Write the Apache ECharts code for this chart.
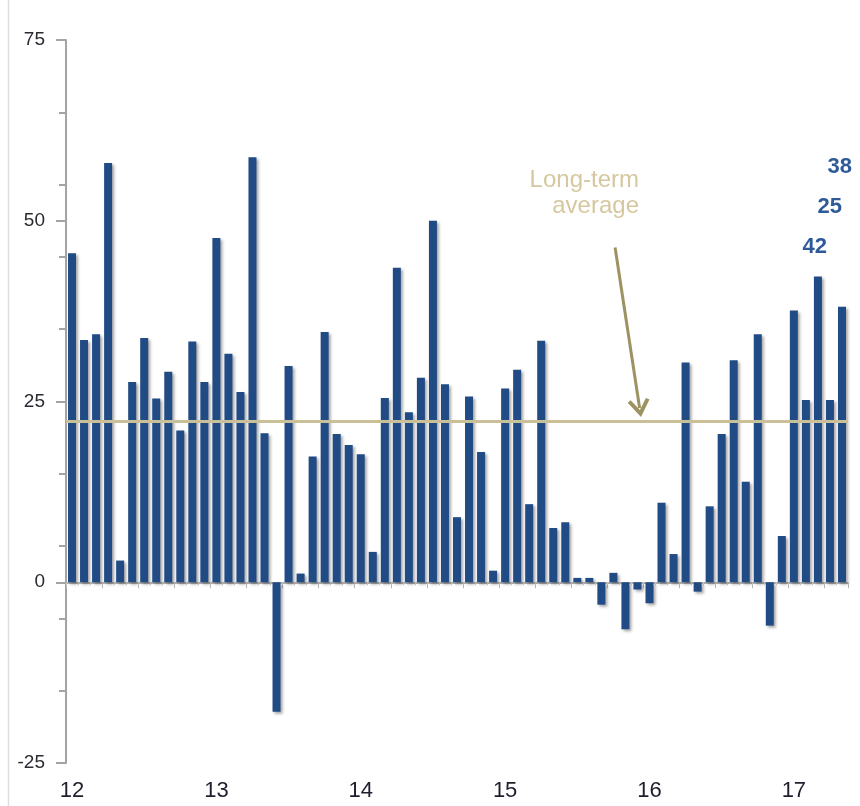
<!DOCTYPE html>
<html>
<head>
<meta charset="utf-8">
<script src="https://cdn.jsdelivr.net/npm/echarts@6/dist/echarts.min.js"></script>
<style>html,body{margin:0;padding:0;background:#fff}#c{width:860px;height:806px}</style>
</head>
<body>
<div id="c"></div>
<script>
// ---- data ----
const startYear = 2012;
const values = [
  45.5, 33.5, 34.3, 58.0, 3.0, 27.7, 33.8, 25.4, 29.1, 21.0, 33.3, 27.7,
  47.6, 31.6, 26.3, 58.8, 20.6, -17.9, 29.9, 1.2, 17.4, 34.6, 20.5, 19.0,
  17.7, 4.2, 25.5, 43.5, 23.5, 28.3, 50.0, 27.4, 9.0, 25.7, 18.0, 1.6,
  26.8, 29.4, 10.8, 33.4, 7.5, 8.3, 0.6, 0.6, -3.1, 1.3, -6.5, -1.0,
  -2.9, 11.0, 3.9, 30.4, -1.3, 10.5, 20.5, 30.7, 13.9, 34.3, -6.0, 6.4,
  37.6, 25.2, 42.3, 25.2, 38.1
];
const categories = values.map((v, i) => {
  const y = startYear + Math.floor(i / 12);
  const m = (i % 12) + 1;
  return y + '-' + (m < 10 ? '0' + m : '' + m);
});
const yTickLabels = [-25, 0, 25, 50, 75];
const longTermAverage = 22.3;
const averageLabel = ['Long-term', 'average'];
const calloutLabels = ['38', '25', '42'];
// arrow from/to in (month index, value) space
const arrowFrom = [45.14, 46.3];
const arrowTo = [47.18, 24.1];

const chart = echarts.init(document.getElementById('c'), null, {renderer: 'canvas'});
const FONT = 'Liberation Sans, Arial, sans-serif';
const axisGrey = '#a3a3a3';

chart.setOption({
  animation: false,
  backgroundColor: '#fff',
  grid: {left: 66, right: 12, top: 40, bottom: 43, containLabel: false},
  xAxis: [
    { // main axis line at zero with quarterly ticks
      type: 'category', data: categories, position: 'bottom',
      axisLine: {show: true, onZero: true, onZeroAxisIndex: 0, lineStyle: {color: '#9a9a9a', width: 1.5}},
      axisTick: {show: true, length: 6, interval: (i) => i % 3 === 0, lineStyle: {color: '#b5b5b5', width: 1}},
      axisLabel: {show: false}, splitLine: {show: false}
    },
    { // monthly minor ticks
      type: 'category', data: categories, position: 'bottom',
      axisLine: {show: false, onZero: true, onZeroAxisIndex: 0},
      axisTick: {show: true, length: 3, interval: 0, lineStyle: {color: '#c8c8c8', width: 1}},
      axisLabel: {show: false}, splitLine: {show: false}
    },
    { // hidden continuous axis for annotation arrow
      type: 'value', min: -0.5, max: values.length - 0.5, position: 'top', show: false,
      axisLine: {onZero: false}, splitLine: {show: false}
    },
    { // year labels at the bottom
      type: 'category', data: categories, position: 'bottom',
      axisLine: {show: false, onZero: false}, axisTick: {show: false},
      axisLabel: {
        show: true, interval: (i, v) => v.endsWith('-01'),
        formatter: (v) => v.slice(2, 4),
        margin: 17, fontSize: 22, color: '#1e1e2c', fontFamily: FONT
      },
      splitLine: {show: false}
    }
  ],
  yAxis: [
    {
      type: 'value', min: -25, max: 75, interval: 25, position: 'left',
      axisLine: {show: true, onZero: false, lineStyle: {color: axisGrey, width: 2}},
      axisTick: {show: true, length: 10, lineStyle: {color: axisGrey, width: 2}},
      axisLabel: {margin: 21, fontSize: 19, color: '#2a2a33', fontFamily: FONT,
        formatter: (v) => yTickLabels.includes(v) ? String(v) : ''},
      splitLine: {show: false}
    },
    {
      type: 'value', min: -25, max: 75, interval: 10, position: 'left',
      axisLine: {show: false, onZero: false},
      axisTick: {show: true, length: 7, lineStyle: {color: axisGrey, width: 2}},
      axisLabel: {show: false}, splitLine: {show: false}
    }
  ],
  series: [
    {
      type: 'bar', xAxisIndex: 0, yAxisIndex: 0, data: values, barWidth: 8,
      itemStyle: {color: '#214b84', shadowColor: 'rgba(0,0,0,0.35)', shadowBlur: 3, shadowOffsetX: 2, shadowOffsetY: 2},
      markLine: {
        silent: true, symbol: ['none', 'none'], label: {show: false},
        lineStyle: {color: '#c9bf98', width: 3, type: 'solid'},
        data: [{yAxis: longTermAverage}]
      }
    },
    {
      type: 'line', xAxisIndex: 2, yAxisIndex: 0, data: [], silent: true,
      markLine: {
        silent: true, label: {show: false},
        symbol: ['none', 'path://M10,0 L20,15 L17,17 L10,6.5 L3,17 L0,15 Z'],
        symbolSize: [22, 18],
        lineStyle: {color: '#9c9262', width: 3, type: 'solid'},
        itemStyle: {color: '#9c9262'},
        data: [[{coord: arrowFrom}, {coord: arrowTo}]]
      }
    }
  ],
  graphic: [
    {type: 'line', shape: {x1: 8.5, y1: 0, x2: 8.5, y2: 806}, style: {stroke: '#dedede', lineWidth: 1.5}, silent: true},
    {type: 'text', style: {text: averageLabel[0], x: 639, y: 180, align: 'right', verticalAlign: 'middle',
      font: '24px ' + FONT, fill: '#d5c79e'}},
    {type: 'text', style: {text: averageLabel[1], x: 639, y: 206, align: 'right', verticalAlign: 'middle',
      font: '24px ' + FONT, fill: '#d5c79e'}},
    {type: 'text', style: {text: calloutLabels[0], x: 852, y: 167, align: 'right', verticalAlign: 'middle',
      font: 'bold 22px ' + FONT, fill: '#2f5a9a'}},
    {type: 'text', style: {text: calloutLabels[1], x: 842, y: 207, align: 'right', verticalAlign: 'middle',
      font: 'bold 22px ' + FONT, fill: '#2f5a9a'}},
    {type: 'text', style: {text: calloutLabels[2], x: 827, y: 247, align: 'right', verticalAlign: 'middle',
      font: 'bold 22px ' + FONT, fill: '#2f5a9a'}}
  ]
});
</script>
</body>
</html>
